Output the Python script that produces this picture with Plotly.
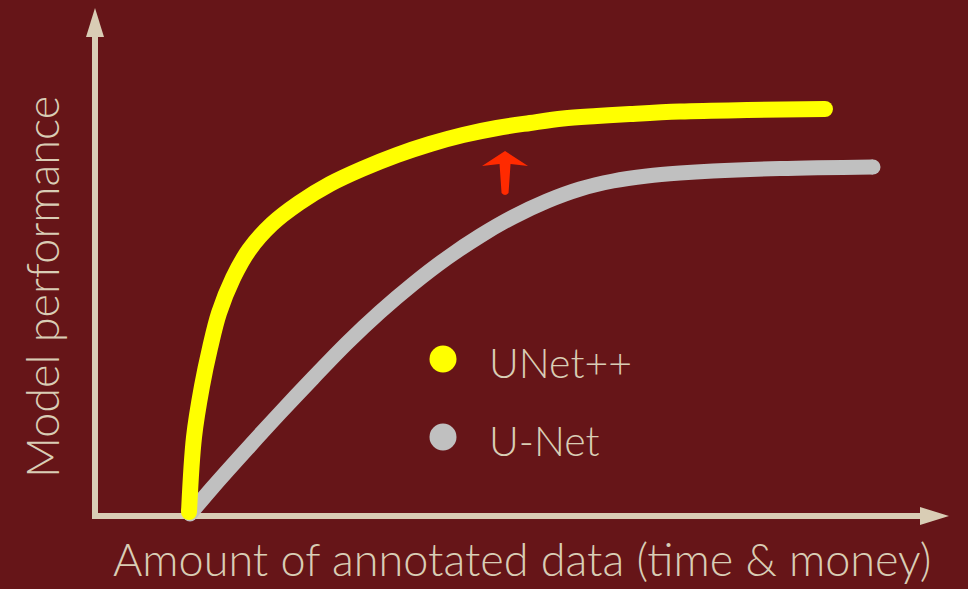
import plotly.graph_objects as go

# Learning curves: model performance vs. amount of annotated data
unetpp_x = [1.106, 1.165, 1.259, 1.353, 1.459, 1.624, 1.812, 2.082, 2.400, 2.765,
            3.141, 3.553, 3.941, 4.329, 4.729, 5.118, 5.506, 5.906, 6.294, 6.882,
            7.671, 8.588]
unetpp_y = [0.01, 0.1975, 0.325, 0.42, 0.5075, 0.595, 0.665, 0.73, 0.7825, 0.83,
            0.8675, 0.9025, 0.93, 0.9525, 0.97, 0.9825, 0.99375, 1.0, 1.005, 1.01125,
            1.015, 1.0175]

unet_x = [1.118, 1.388, 1.788, 2.176, 2.565, 2.965, 3.353, 3.741, 4.141, 4.529,
          4.918, 5.318, 5.706, 6.094, 6.494, 6.882, 7.271, 8.059, 9.153]
unet_y = [0.005, 0.0725, 0.1675, 0.2575, 0.345, 0.4325, 0.51, 0.58, 0.645, 0.70,
          0.7475, 0.7875, 0.8175, 0.8375, 0.85, 0.8575, 0.8625, 0.8685, 0.8725]

series_names = ["UNet++", "U-Net"]
series_colors = ["#ffff00", "#c0c0c0"]
series_widths = [16, 15]

x_title = "Amount of annotated data (time & money)"
y_title = "Model performance"

BG = "#661518"
INK = "#d9cdb5"
ARROW_RED = "#ff2a00"

W, H = 968, 589
X0_PX, Y0_PX = 95, 516          # pixel position of the origin
PX_PER_X, PX_PER_Y = 85, 400    # pixels per data unit
x_range = [-X0_PX / PX_PER_X, (W - X0_PX) / PX_PER_X]
y_range = [(Y0_PX - H) / PX_PER_Y, Y0_PX / PX_PER_Y]

X_AXIS_END = (949 - X0_PX) / PX_PER_X
Y_AXIS_END = (Y0_PX - 8) / PX_PER_Y
HEAD_LEN, HEAD_HALF = 29, 9

fig = go.Figure()


def add_curve(xs, ys, col, w):
    fig.add_trace(go.Scatter(
        x=xs, y=ys, mode="lines",
        line=dict(color=col, width=w, shape="spline", smoothing=1.0, simplify=False),
        hoverinfo="skip", showlegend=False))
    # round caps at both ends
    fig.add_trace(go.Scatter(
        x=[xs[0], xs[-1]], y=[ys[0], ys[-1]], mode="markers",
        marker=dict(color=col, size=w, line=dict(width=0)),
        hoverinfo="skip", showlegend=False))


# U-Net first so UNet++ is drawn over its starting point
add_curve(unet_x, unet_y, series_colors[1], series_widths[1])
add_curve(unetpp_x, unetpp_y, series_colors[0], series_widths[0])

shapes = []
# axis shafts
shapes.append(dict(type="line", xref="x", yref="y", x0=0, y0=0,
                   x1=X_AXIS_END - HEAD_LEN / PX_PER_X, y1=0,
                   line=dict(color=INK, width=6), layer="below"))
shapes.append(dict(type="line", xref="x", yref="y", x0=0, y0=-3 / PX_PER_Y,
                   x1=0, y1=Y_AXIS_END - HEAD_LEN / PX_PER_Y,
                   line=dict(color=INK, width=6), layer="below"))
# axis arrowheads
shapes.append(dict(type="path", xref="x", yref="y", xsizemode="pixel", ysizemode="pixel",
                   xanchor=X_AXIS_END, yanchor=0,
                   path=f"M 0,0 L {-HEAD_LEN},{HEAD_HALF} L {-HEAD_LEN},{-HEAD_HALF} Z",
                   fillcolor=INK, line=dict(width=0), layer="below"))
shapes.append(dict(type="path", xref="x", yref="y", xsizemode="pixel", ysizemode="pixel",
                   xanchor=0, yanchor=Y_AXIS_END,
                   path=f"M 0,0 L {HEAD_HALF},{-HEAD_LEN} L {-HEAD_HALF},{-HEAD_LEN} Z",
                   fillcolor=INK, line=dict(width=0), layer="below"))

# red "improvement" arrow between the curves
arrow_x, arrow_y = 4.824, 0.9125
shapes.append(dict(type="path", xref="x", yref="y", xsizemode="pixel", ysizemode="pixel",
                   xanchor=arrow_x, yanchor=arrow_y,
                   path=("M 0,0 L 23,-15 L 5.5,-13 L 3.5,-42 Q 0,-46 -3.5,-42 "
                         "L -5.5,-13 L -23,-15 Z"),
                   fillcolor=ARROW_RED, line=dict(width=0)))

# legend dots
legend_rows = [359, 437]
for row, col in zip(legend_rows, series_colors):
    shapes.append(dict(type="circle", xref="paper", yref="paper",
                       x0=(443 - 13.5) / W, x1=(443 + 13.5) / W,
                       y0=1 - (row + 13.5) / H, y1=1 - (row - 13.5) / H,
                       fillcolor=col, line=dict(width=0)))

FONT = "Lato"
annotations = []
for row, name in zip(legend_rows, series_names):
    annotations.append(dict(text=name, xref="paper", yref="paper",
                            x=487 / W, y=1 - (row + 3) / H, xanchor="left", yanchor="middle",
                            showarrow=False,
                            font=dict(family=FONT, size=41, color=INK, weight=300)))
annotations.append(dict(text=x_title, xref="paper", yref="paper",
                        x=522 / W, y=1 - 559 / H, xanchor="center", yanchor="middle",
                        showarrow=False,
                        font=dict(family=FONT, size=45, color=INK, weight=300)))
annotations.append(dict(text=y_title, xref="paper", yref="paper",
                        x=42 / W, y=1 - 287 / H, xanchor="center", yanchor="middle",
                        textangle=-90, showarrow=False,
                        font=dict(family=FONT, size=45, color=INK, weight=300)))

fig.update_layout(
    width=W, height=H,
    margin=dict(l=0, r=0, t=0, b=0),
    paper_bgcolor=BG, plot_bgcolor=BG,
    xaxis=dict(range=x_range, visible=False, fixedrange=True),
    yaxis=dict(range=y_range, visible=False, fixedrange=True),
    shapes=shapes, annotations=annotations,
    showlegend=False,
)

fig.write_html("out.html", config={"displayModeBar": False})
